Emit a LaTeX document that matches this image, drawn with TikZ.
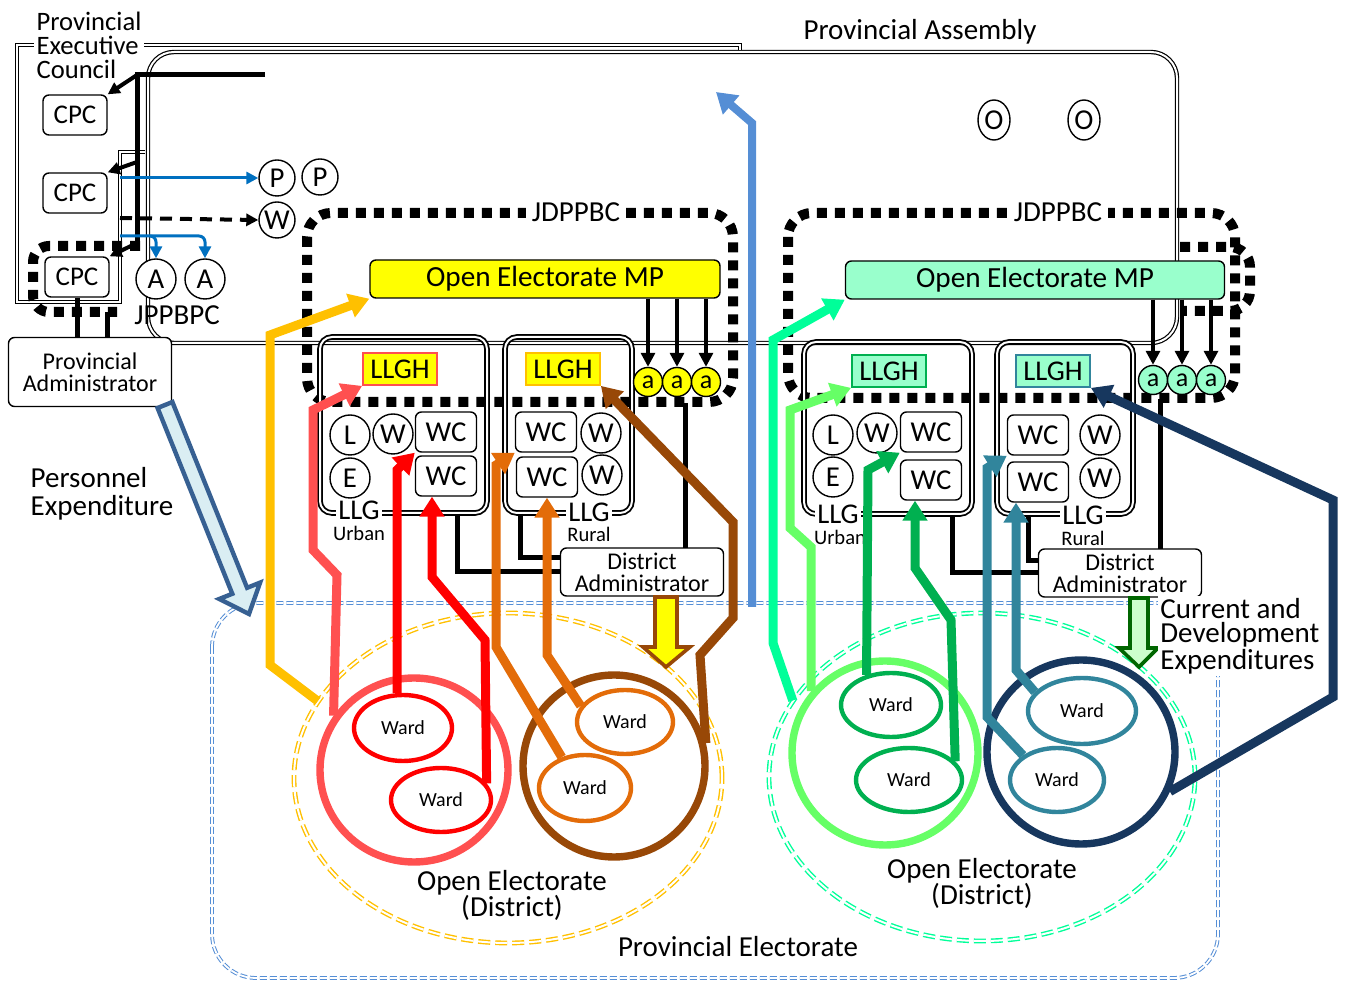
\documentclass[tikz,border=0pt]{standalone}
\usepackage{fontspec}
\setmainfont{Carlito}
\usetikzlibrary{arrows.meta, shapes.geometric}

\begin{document}
\begin{tikzpicture}[x=0.5pt, y=-0.5pt, >={Triangle[length=6pt, width=6pt]},
    rbox/.style={draw, fill=white, rounded corners=3pt, line width=0.7pt, inner sep=0pt},
    cpc/.style={rbox, minimum width=32pt, minimum height=20pt, font=\fontsize{13.5}{13}\selectfont},
    wcbox/.style={rbox, minimum width=30.5pt, minimum height=20pt, font=\fontsize{14.4}{13}\selectfont},
    admin/.style={rbox, align=center, minimum width=81.5pt, font=\fontsize{12}{11}\selectfont},
    member/.style={circle, draw, fill=white, line width=0.7pt, minimum size=20pt, inner sep=0pt, font=\fontsize{14.4}{13}\selectfont},
    amember/.style={circle, draw, line width=0.7pt, minimum size=14.5pt, inner sep=0pt, font=\fontsize{13}{13}\selectfont},
    llgh/.style={draw, line width=0.9pt, minimum width=37pt, minimum height=16pt, inner sep=0pt, font=\fontsize{14.3}{13}\selectfont},
    mpbox/.style={draw, rounded corners=3pt, line width=0.7pt, minimum height=19pt, inner sep=0pt, font=\fontsize{14.6}{13}\selectfont},
    ward/.style={ellipse, draw, line width=2.2pt, inner sep=0pt, font=\fontsize{10}{10}\selectfont},
    bigring/.style={ellipse, draw, line width=3.7pt, inner sep=0pt},
    electorate/.style={ellipse, draw, double, line width=0.7pt, double distance=1pt, dash pattern=on 6pt off 2.5pt, inner sep=0pt},
    llgbox/.style={double, line width=0.9pt, double distance=1pt, rounded corners=6pt},
    house/.style={double, line width=0.6pt, double distance=1pt},
    committee/.style={line width=5pt, dash pattern=on 5pt off 4pt},
    flow/.style={line width=4.5pt, -{Triangle[length=10pt, width=12pt]}},
    txt/.style={inner sep=0pt, align=left, font=\fontsize{14.5}{12}\selectfont},
    llglbl/.style={inner sep=1pt, fill=white, font=\fontsize{14.3}{13}\selectfont},
    llgsub/.style={inner sep=0pt, font=\fontsize{10.3}{10}\selectfont},
]
    % Colours
    \definecolor{mpYellow}{RGB}{255,255,0}
    \definecolor{mintFill}{RGB}{153,255,204}
    \definecolor{goldC}{RGB}{255,192,0}
    \definecolor{pinkC}{RGB}{255,80,80}
    \definecolor{redC}{RGB}{255,0,0}
    \definecolor{orangeC}{RGB}{227,108,9}
    \definecolor{brownC}{RGB}{152,72,7}
    \definecolor{mintC}{RGB}{0,255,153}
    \definecolor{lgreenC}{RGB}{102,255,102}
    \definecolor{greenC}{RGB}{0,176,80}
    \definecolor{tealC}{RGB}{49,133,156}
    \definecolor{navyC}{RGB}{23,55,94}
    \definecolor{blueA}{RGB}{85,142,213}
    \definecolor{blueS}{RGB}{0,112,192}
    \definecolor{peFill}{RGB}{218,238,243}
    \definecolor{peLine}{RGB}{55,96,146}
    \definecolor{cdFill}{RGB}{204,255,204}
    \definecolor{cdLine}{RGB}{0,102,0}

    \useasboundingbox (0,0) rectangle (1345,983);

    % 1. Provincial Electorate and the two Open Electorates
    \draw[blueA, double, line width=0.5pt, double distance=0.9pt, dash pattern=on 3.5pt off 1.5pt, rounded corners=22pt]
        (212,603) rectangle (1218,978);
    \node[electorate, draw=goldC, minimum width=214pt, minimum height=165pt] (ovL) at (508,778) {};
    \node[electorate, draw=mintC, minimum width=213pt, minimum height=164pt] (ovR) at (982,777) {};

    % 2. Provincial Assembly and Provincial Executive Council
    \draw[house, rounded corners=13pt] (148,52) rectangle (1177,343);
    \draw[house] (145,152) -- (120,152) -- (120,302) -- (17,302) -- (17,45) -- (740,45) -- (740,50);
    \node[txt, fill=white, inner sep=1.5pt, font=\fontsize{13.3}{12}\selectfont] (lblExec) at (89,45) {Provincial\\Executive\\Council};
    \node[txt] (lblAssembly) at (920,32) {Provincial Assembly};

    % 3. Committees (dotted)
    \draw[committee, rounded corners=8pt] (140,246) -- (33,246) -- (33,312) -- (117,312);
    \draw[committee, rounded corners=12pt] (307,213) rectangle (733,402);
    \draw[committee, rounded corners=12pt] (788,213) rectangle (1235,398);
    \draw[committee, rounded corners=10pt] (1180,247) -- (1250,247) -- (1250,311) -- (1180,311);
    \node[txt, fill=white, inner sep=3pt] (jdL) at (576,212) {JDPPBC};
    \node[txt, fill=white, inner sep=3pt] (jdR) at (1058,212) {JDPPBC};
    \node[txt] (jppbpc) at (177,315) {JPPBPC};

    % 4. LLG boxes
    \draw[llgbox] (320,337) rectangle (487,513);
    \draw[llgbox] (505,337) rectangle (632,513);
    \draw[llgbox] (804,342) rectangle (972,514);
    \draw[llgbox] (997,342) rectangle (1133,514);

    % 5. Executive side nodes
    \node[cpc] (cpcA) at (75,115) {CPC};
    \node[cpc] (cpcB) at (75,193) {CPC};
    \node[cpc] (cpcC) at (77,277) {CPC};
    \node[admin, minimum height=34.5pt] (provAdmin) at (90,372) {Provincial\\Administrator};
    \node[member, minimum size=18pt] (pA) at (277,178) {P};
    \node[member, minimum size=18pt] (pB) at (320,177) {P};
    \node[member, minimum size=18pt] (wP) at (277,220) {W};
    \node[member] (aA) at (156,279) {A};
    \node[member] (aB) at (205,279) {A};
    \node[member, ellipse, minimum width=16pt, minimum height=20pt] (oA) at (994,120) {O};
    \node[member, ellipse, minimum width=16pt, minimum height=20pt] (oB) at (1084,120) {O};

    % Lines from the Assembly to the CPCs
    \draw[line width=2.5pt] (265,75) -- (137,75) -- (137,248);
    \draw[->, line width=2pt] (137,75) -- (cpcA.north east);
    \draw[->, line width=2pt] (137,162) -- (cpcB.north east);
    \draw[->, line width=2pt] (137,243) -- (cpcC.north east);
    \draw[->, blueS, line width=1.5pt] (120,178) -- (pA.west);
    \draw[->, dashed, line width=2pt, dash pattern=on 6pt off 4pt] (120,218) -- (wP.west);
    \draw[->, blueS, line width=1.5pt, rounded corners=3pt] (120,236) -- (205,236) -- (aB.north);
    \draw[->, blueS, line width=1.5pt, rounded corners=3pt] (150,236) -- (156,236) -- (aA.north);
    \draw[line width=2.5pt] (cpcC.south) -- (cpcC.south |- provAdmin.north);
    \draw[line width=2.5pt] (107,312) -- (107,338);

    % 6. Open Electorate MPs and their a's
    \node[mpbox, fill=mpYellow, minimum width=175pt] (mpL) at (545,279) {Open Electorate MP};
    \node[mpbox, fill=mintFill, minimum width=189.5pt] (mpR) at (1035,280) {Open Electorate MP};
    \foreach \i/\x in {1/648, 2/677, 3/706} {
        \node[amember, fill=mpYellow] (aL\i) at (\x,382) {a};
        \draw[-{Triangle[length=7pt, width=7pt]}, line width=1.6pt] (aL\i |- mpL.south) -- (aL\i.north);
    }
    \foreach \i/\x in {1/1153, 2/1182, 3/1211} {
        \node[amember, fill=mintFill] (aR\i) at (\x,380) {a};
        \draw[-{Triangle[length=7pt, width=7pt]}, line width=1.6pt] (aR\i |- mpR.south) -- (aR\i.north);
    }

    % 7. LLG contents
    \node[llgh, fill=mpYellow, draw=pinkC] (llghLU) at (400,369) {LLGH};
    \node[llgh, fill=mpYellow, draw=goldC] (llghLR) at (563,369) {LLGH};
    \node[llgh, fill=mintFill, draw=greenC] (llghRU) at (889,371) {LLGH};
    \node[llgh, fill=mintFill, draw=tealC] (llghRR) at (1053,371) {LLGH};

    \node[member] (lLU) at (350,435) {L};
    \node[member] (wLU) at (393,434) {W};
    \node[member] (eLU) at (350,478) {E};
    \node[wcbox] (wcLU1) at (446,432) {WC};
    \node[wcbox] (wcLU2) at (446,476) {WC};
    \node[wcbox] (wcLR1) at (546,432) {WC};
    \node[wcbox] (wcLR2) at (547,477) {WC};
    \node[member] (wLR1) at (601,433) {W};
    \node[member] (wLR2) at (602,475) {W};

    \node[member] (lRU) at (833,435) {L};
    \node[member] (wRU) at (877,433) {W};
    \node[member] (eRU) at (833,477) {E};
    \node[wcbox] (wcRU1) at (931,432) {WC};
    \node[wcbox] (wcRU2) at (931,480) {WC};
    \node[wcbox] (wcRR1) at (1038,435) {WC};
    \node[wcbox] (wcRR2) at (1038,482) {WC};
    \node[member] (wRR1) at (1100,435) {W};
    \node[member] (wRR2) at (1100,478) {W};

    \node[llglbl] (llgLU) at (359,510) {LLG};
    \node[llgsub] at (359,533) {Urban};
    \node[llglbl] (llgLR) at (589,512) {LLG};
    \node[llgsub] at (589,534) {Rural};
    \node[llglbl] (llgRU) at (838,514) {LLG};
    \node[llgsub] at (840,537) {Urban};
    \node[llglbl] (llgRR) at (1083,515) {LLG};
    \node[llgsub] at (1083,538) {Rural};

    % 8. District Administrators
    \node[admin, minimum height=24pt] (distL) at (642,572) {District\\Administrator};
    \node[admin, minimum height=24pt] (distR) at (1120,573) {District\\Administrator};
    \draw[line width=2.5pt] (457,514) |- (distL.west);
    \draw[line width=2.5pt] (520,514) |- ([yshift=7pt]distL.west);
    \draw[line width=2.5pt] (685,403) -- (685,548);
    \draw[line width=2.5pt] (952,515) |- (distR.west);
    \draw[line width=2.5pt] (1028,515) |- ([yshift=6pt]distR.west);
    \draw[line width=2.5pt] (1160,399) -- (1160,549);

    % 9. Rings and wards
    \node[bigring, draw=pinkC, minimum width=94pt, minimum height=92pt] (cirPink) at (414,770) {};
    \node[bigring, draw=brownC, minimum width=91pt, minimum height=91pt] (cirBrown) at (614,766) {};
    \node[bigring, draw=lgreenC, minimum width=93pt, minimum height=92pt] (cirGreen) at (885,753) {};
    \node[bigring, draw=navyC, minimum width=94pt, minimum height=92pt] (cirNavy) at (1081,752) {};

    \node[ward, draw=redC, minimum width=49pt, minimum height=33pt] (wL1) at (403,728) {Ward};
    \node[ward, draw=redC, minimum width=50pt, minimum height=32pt] (wL2) at (441,800) {Ward};
    \node[ward, draw=orangeC, minimum width=48pt, minimum height=32pt] (wB1) at (625,722) {Ward};
    \node[ward, draw=orangeC, minimum width=46pt, minimum height=33pt] (wB2) at (585,788) {Ward};
    \node[ward, draw=greenC, minimum width=50pt, minimum height=32pt] (wG1) at (891,705) {Ward};
    \node[ward, draw=greenC, minimum width=53pt, minimum height=32pt] (wG2) at (909,780) {Ward};
    \node[ward, draw=tealC, minimum width=54pt, minimum height=33pt] (wT1) at (1082,711) {Ward};
    \node[ward, draw=tealC, minimum width=47pt, minimum height=32pt] (wT2) at (1057,780) {Ward};

    % 10. Flows up from the electorates
    \draw[flow, goldC] (ovL.158) -- (270,665) -- (270,335) -- (mpL.south west);
    \draw[flow, pinkC] (cirPink.146) -- (337,575) -- (313,550) -- (313,410) -- (llghLU.south west);
    \draw[flow, redC] ([xshift=-3pt]wL1.north) -- (397,470) -- (wcLU1.south west);
    \draw[flow, redC] (wL2.20) -- (485,640) -- (432,577) -- ([xshift=-7pt]wcLU2.south);
    \draw[flow, orangeC] (wB2.127) -- (496,647) -- (496,465) -- (wcLR1.south west);
    \draw[flow, orangeC] (wB1.160) -- (547,655) -- (wcLR2.south);
    \draw[flow, brownC] (cirBrown.14) -- (700,655) -- (733,618) -- (733,522) -- (llghLR.south east);

    \draw[flow, mintC] (ovR.158) -- (773,643) -- (773,340) -- (mpR.south west);
    \draw[flow, lgreenC] (cirGreen.140) -- (811,547) -- (790,528) -- (790,410) -- (llghRU.south west);
    \draw[flow, greenC] (wG1.129) -- (868,470) -- (wcRU1.south west);
    \draw[flow, greenC] (wG2.22) -- (951,620) -- (915,568) -- ([xshift=-8pt]wcRU2.south);
    \draw[flow, tealC] (wT2.144) -- (987,717) -- (987,468) -- (wcRR1.south west);
    \draw[flow, tealC] (wT1.158) -- (1016,670) -- ([xshift=-11pt]wcRR2.south);
    \draw[flow, navyC] (cirNavy.-24) -- (1333,697) -- (1333,500) -- (llghRR.south east);

    \draw[flow, blueA, line width=4pt] (752,607) -- (752,123) -- (716,92);

    % 11. Expenditure arrows
    \draw[peLine, fill=peFill, line width=2.2pt] (172.4,402) -- (247.1,587.8) -- (260.1,582.6) -- (249,614)
        -- (219.3,599) -- (232.3,593.8) -- (157.6,408) -- cycle;
    \draw[brownC, fill=mpYellow, line width=1.8pt] (655,597) -- (677,597) -- (677,647) -- (690,647)
        -- (666,667) -- (643,647) -- (655,647) -- cycle;
    \draw[cdLine, fill=cdFill, line width=1.8pt] (1130,598) -- (1148,598) -- (1148,648) -- (1158,648)
        -- (1139,667) -- (1119,648) -- (1130,648) -- cycle;

    % 12. Labels
    \node[txt, font=\fontsize{14.5}{14}\selectfont] (lblPE) at (102,494) {Personnel\\Expenditure};
    \node[txt, fill=white, inner sep=1pt, anchor=west, font=\fontsize{14.5}{12.3}\selectfont] (lblCD) at (1158,636) {Current and\\Development\\Expenditures};
    \node[txt, align=center, font=\fontsize{14.5}{13}\selectfont] (lblOEL) at (512,895) {Open Electorate\\(District)};
    \node[txt, align=center, font=\fontsize{14.5}{13}\selectfont] (lblOER) at (982,883) {Open Electorate\\(District)};
    \node[txt] (lblPEl) at (738,947) {Provincial Electorate};
\end{tikzpicture}
\end{document}
